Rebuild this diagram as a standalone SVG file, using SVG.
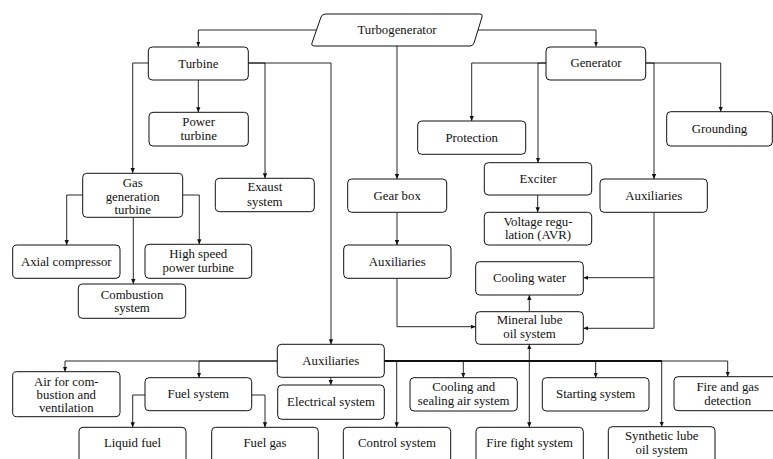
<svg xmlns="http://www.w3.org/2000/svg" width="773" height="459" viewBox="0 0 773 459">
<defs>
<marker id="ah" viewBox="0 0 6 6" refX="6" refY="3" markerWidth="5" markerHeight="5" markerUnits="userSpaceOnUse" orient="auto">
<path d="M0,0.4 L6,3 L0,5.6 z" fill="#111"/>
</marker>
<style>
.b{fill:#fff;stroke:#111;stroke-width:1}
.t{font-family:"Liberation Serif","Times New Roman",serif;font-size:12.8px;fill:#111;text-anchor:middle}
.c path{fill:none;stroke:#111;stroke-width:0.9}
.c .a{marker-end:url(#ah)}
</style>
</defs>
<rect width="773" height="459" fill="#fff"/>
<g class="c" id="connectors">
<path class="a" d="M317.2,30 H198.3 V46.5"/>
<path class="a" d="M478,30 H596 V46.5"/>
<path class="a" d="M397,46 V179"/>
<path class="a" d="M148.3,63 H132.7 V173"/>
<path class="a" d="M198.3,80 V112.3"/>
<path class="a" d="M248.3,63 H265 V178.3"/>
<path class="a" d="M248.3,63 H331 V344.3"/>
<path class="a" d="M82.7,195 H66.7 V245"/>
<path class="a" d="M133.3,217.3 V284"/>
<path class="a" d="M182.7,195 H199.3 V244.3"/>
<path class="a" d="M546,63 H471.7 V121"/>
<path class="a" d="M546,63 H538 V162.7"/>
<path class="a" d="M645.7,63 H720.7 V111.7"/>
<path class="a" d="M645.7,63 H654 V179"/>
<path class="a" d="M537.7,195 V212.3"/>
<path class="a" d="M397,212.3 V245"/>
<path class="a" d="M397,278.3 V326.7 H475.7"/>
<path class="a" d="M654,212.3 V277.7 H583.3"/>
<path class="a" d="M654,277.7 V328.3 H583.3"/>
<path class="a" d="M529.3,311.7 V295"/>
<path class="a" d="M277.3,361 H65 V371.7"/>
<path class="a" d="M277.3,361 H199 V377.7"/>
<path class="a" d="M330.8,377.3 V385"/>
<path d="M384.3,361 H662" style="stroke-width:1.8"/>
<path class="a" d="M384.3,361 H396.7 V427.3"/>
<path class="a" d="M384.3,361 H463.3 V377.7"/>
<path class="a" d="M384.3,361 H529.3 V344.3"/>
<path class="a" d="M384.3,361 H529.3 V427.3"/>
<path class="a" d="M384.3,361 H595.7 V377.7"/>
<path class="a" d="M384.3,361 H661.7 V426.7"/>
<path class="a" d="M384.3,361 H727.7 V376.7"/>
<path class="a" d="M145,395 H132.7 V427.3"/>
<path class="a" d="M251.7,395 H265 V427.3"/>
</g>
<g id="turbogenerator">
<path class="b" d="M325.5,14 H479.5 Q483,14 482,17 L474,43 Q473,46 470,46 H314.5 Q311,46 312,43 L321,17 Q322,14 325.5,14 z"/>
<text class="t" x="397" y="33.5">Turbogenerator</text>
</g>
<g id="turbine"><rect class="b" x="148.3" y="47" width="100" height="33" rx="4"/><text class="t" x="198.3" y="67.5">Turbine</text></g>
<g id="generator"><rect class="b" x="546" y="47" width="99.7" height="33" rx="4"/><text class="t" x="596" y="67.3">Generator</text></g>
<g id="power-turbine"><rect class="b" x="149" y="112.3" width="99.3" height="33.7" rx="4"/><text class="t" x="198.7" y="126.3">Power</text><text class="t" x="198.7" y="140">turbine</text></g>
<g id="gas-generation-turbine"><rect class="b" x="82.7" y="173.3" width="100" height="44" rx="4"/><text class="t" x="132.7" y="187">Gas</text><text class="t" x="132.7" y="200.5">generation</text><text class="t" x="132.7" y="214">turbine</text></g>
<g id="exaust-system"><rect class="b" x="215.3" y="178.3" width="99" height="33.4" rx="4"/><text class="t" x="264.8" y="191.3">Exaust</text><text class="t" x="264.8" y="205.5">system</text></g>
<g id="axial-compressor"><rect class="b" x="12.7" y="245" width="107.3" height="33.3" rx="4"/><text class="t" x="66.3" y="265.7">Axial compressor</text></g>
<g id="high-speed-power-turbine"><rect class="b" x="145" y="244.3" width="106.7" height="34" rx="4"/><text class="t" x="198.3" y="258.3">High speed</text><text class="t" x="198.3" y="272.3">power turbine</text></g>
<g id="combustion-system"><rect class="b" x="78.3" y="284" width="107.4" height="34.3" rx="4"/><text class="t" x="132" y="299">Combustion</text><text class="t" x="132" y="312.3">system</text></g>
<g id="gear-box"><rect class="b" x="347.7" y="179" width="99" height="33.3" rx="4"/><text class="t" x="397.2" y="200">Gear box</text></g>
<g id="auxiliaries-gear"><rect class="b" x="343.7" y="245" width="107.3" height="33.3" rx="4"/><text class="t" x="397.3" y="265.7">Auxiliaries</text></g>
<g id="protection"><rect class="b" x="417.7" y="121" width="108" height="33.3" rx="4"/><text class="t" x="471.7" y="141.7">Protection</text></g>
<g id="grounding"><rect class="b" x="666.7" y="111.7" width="105.6" height="34.3" rx="4"/><text class="t" x="719.5" y="132.8">Grounding</text></g>
<g id="exciter"><rect class="b" x="484.3" y="162.7" width="107.4" height="32.3" rx="4"/><text class="t" x="538" y="183">Exciter</text></g>
<g id="voltage-regulation"><rect class="b" x="484.3" y="212.3" width="107.4" height="32.7" rx="4"/><text class="t" x="538" y="225.7">Voltage regu-</text><text class="t" x="538" y="239">lation (AVR)</text></g>
<g id="auxiliaries-generator"><rect class="b" x="600" y="179" width="107.3" height="33.3" rx="4"/><text class="t" x="653.7" y="199.7">Auxiliaries</text></g>
<g id="cooling-water"><rect class="b" x="475.7" y="261.7" width="107.6" height="33.3" rx="4"/><text class="t" x="529.5" y="282.3">Cooling water</text></g>
<g id="mineral-lube-oil-system"><rect class="b" x="475.7" y="311.7" width="107.6" height="32.6" rx="4"/><text class="t" x="529.5" y="324">Mineral lube</text><text class="t" x="529.5" y="338">oil system</text></g>
<g id="auxiliaries-main"><rect class="b" x="277.3" y="344.3" width="107" height="33" rx="4"/><text class="t" x="330.8" y="364.8">Auxiliaries</text></g>
<g id="air-for-combustion"><rect class="b" x="12.7" y="371.7" width="107.3" height="45" rx="4"/><text class="t" x="66.3" y="385.7">Air for com-</text><text class="t" x="66.3" y="399">bustion and</text><text class="t" x="66.3" y="412.3">ventilation</text></g>
<g id="fuel-system"><rect class="b" x="145" y="377.7" width="106.7" height="33" rx="4"/><text class="t" x="198.3" y="398">Fuel system</text></g>
<g id="electrical-system"><rect class="b" x="277.7" y="385" width="106.6" height="34.3" rx="4"/><text class="t" x="331" y="406">Electrical system</text></g>
<g id="liquid-fuel"><rect class="b" x="79" y="427.3" width="107" height="36" rx="4"/><text class="t" x="132.5" y="446.7">Liquid fuel</text></g>
<g id="fuel-gas"><rect class="b" x="211.7" y="427.3" width="106.6" height="36" rx="4"/><text class="t" x="265" y="446.7">Fuel gas</text></g>
<g id="control-system"><rect class="b" x="343.3" y="427.3" width="107.4" height="36" rx="4"/><text class="t" x="397" y="446.7">Control system</text></g>
<g id="cooling-sealing-air"><rect class="b" x="410" y="377.7" width="107.3" height="33.3" rx="4"/><text class="t" x="463.7" y="390.7">Cooling and</text><text class="t" x="463.7" y="404.7">sealing air system</text></g>
<g id="fire-fight-system"><rect class="b" x="476" y="427.3" width="107.3" height="36" rx="4"/><text class="t" x="529.7" y="446.7">Fire fight system</text></g>
<g id="starting-system"><rect class="b" x="542.3" y="377.7" width="106.7" height="33.3" rx="4"/><text class="t" x="595.7" y="398">Starting system</text></g>
<g id="synthetic-lube-oil-system"><rect class="b" x="608.3" y="426.7" width="106.7" height="36.6" rx="4"/><text class="t" x="661.7" y="440.3">Synthetic lube</text><text class="t" x="661.7" y="453.5">oil system</text></g>
<g id="fire-gas-detection"><rect class="b" x="674" y="376.7" width="107" height="34" rx="4"/><text class="t" x="727.7" y="391.3">Fire and gas</text><text class="t" x="727.7" y="405">detection</text></g>
</svg>
